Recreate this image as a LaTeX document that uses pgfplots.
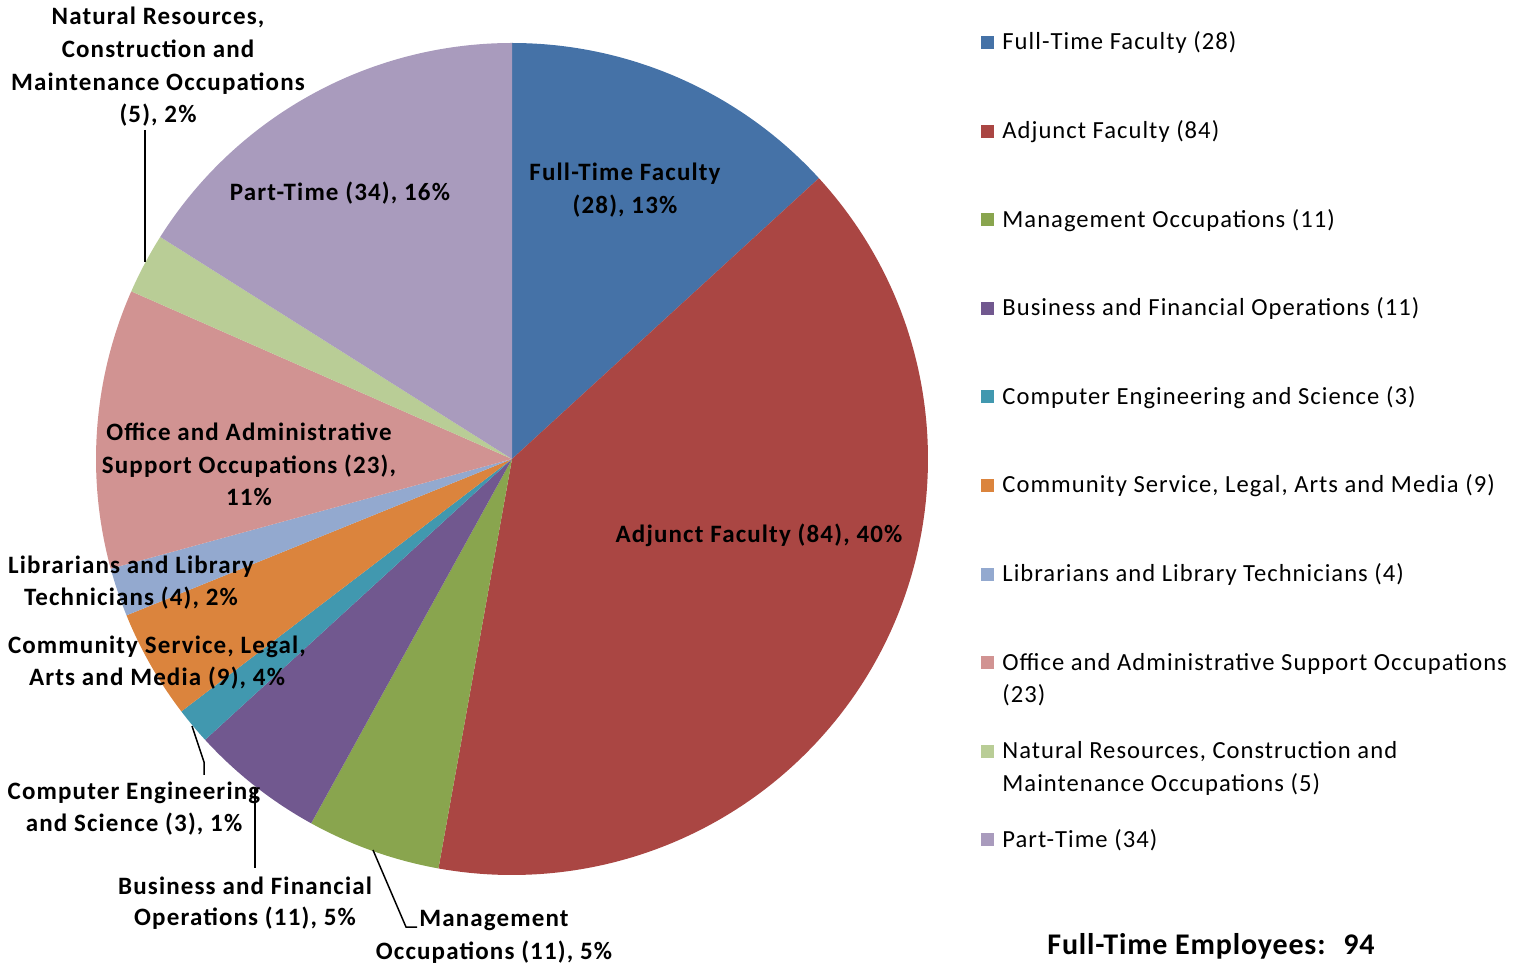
\documentclass[border=0pt]{standalone}
\usepackage{pgfplots}
\pgfplotsset{compat=1.18}
\usepackage{pgfplotstable}
\usepackage{fontspec}
\setmainfont{Carlito}
\newfontfamily\legfont{Carlito}[LetterSpace=4.2]
\newfontfamily\lblfont{Carlito}[LetterSpace=4.6]
\newfontfamily\ttlfont{Carlito}[LetterSpace=2.8]

% Excel 2010 pie palette
\definecolor{c0}{HTML}{4572A7}
\definecolor{c1}{HTML}{AA4643}
\definecolor{c2}{HTML}{89A54E}
\definecolor{c3}{HTML}{71588F}
\definecolor{c4}{HTML}{4198AF}
\definecolor{c5}{HTML}{DB843D}
\definecolor{c6}{HTML}{93A9CF}
\definecolor{c7}{HTML}{D19392}
\definecolor{c8}{HTML}{B9CD96}
\definecolor{c9}{HTML}{A99BBD}

\pgfplotstableread{
key value
FullTime 28
Adjunct 84
Management 11
Business 11
Computer 3
Community 9
Librarians 4
Office 23
Natural 5
PartTime 34
}\staff

% data label line, x and baseline y in picture pixels
\newcommand\dl[3]{\node[anchor=base,font=\lblfont\fontsize{12.5}{14}\selectfont\bfseries,inner sep=0pt] at (axis cs:#1,#2) {#3};}
% legend entry: square + first line
\newcommand\legent[3]{%
  \fill[#1] (axis cs:981,{#2-14}) rectangle (axis cs:994,{#2-1});
  \node[anchor=base west,inner sep=0pt] at (axis cs:1002,#2) {#3};}
\newcommand\legcont[2]{\node[anchor=base west,inner sep=0pt] at (axis cs:1002,#1) {#2};}

\begin{document}
\begin{tikzpicture}[font=\legfont\fontsize{12.3}{14}\selectfont]
\begin{axis}[
  scale only axis,
  width=761pt, height=483.5pt,
  xmin=0, xmax=1522, ymin=0, ymax=967,
  y dir=reverse,
  hide axis,
  clip=false,
]
\path (axis cs:0,0) rectangle (axis cs:1522,967);

% total of all slices
\def\total{0}
\pgfplotsforeachungrouped \i in {0,...,9}{%
  \pgfplotstablegetelem{\i}{value}\of\staff
  \pgfmathsetmacro\total{\total+\pgfplotsretval}%
}
% slices, clockwise from 12 o'clock
\def\cum{0}
\pgfplotsforeachungrouped \i in {0,...,9}{%
  \pgfplotstablegetelem{\i}{value}\of\staff
  \let\v\pgfplotsretval
  \pgfmathsetmacro\angA{90-\cum/\total*360}%
  \pgfmathsetmacro\cum{\cum+\v}%
  \pgfmathsetmacro\angB{90-\cum/\total*360}%
  \edef\temp{\noexpand\fill[c\i] (axis cs:512,459) -- ++(\angA:208pt)
    arc[start angle=\angA, end angle=\angB, radius=208pt] -- cycle;}%
  \temp
}

% leader lines
\draw[line width=0.75pt] (axis cs:145,130) -- (axis cs:145,262);
\draw[line width=0.75pt] (axis cs:192,726) -- (axis cs:204,762) -- (axis cs:204,775);
\draw[line width=0.75pt] (axis cs:255,787) -- (axis cs:255,868);
\draw[line width=0.75pt] (axis cs:373,850) -- (axis cs:406,927) -- (axis cs:417,927);

% data labels
\dl{625}{181}{Full-Time Faculty}
\dl{625}{214}{(28), 13\%}
\dl{759}{543}{Adjunct Faculty (84), 40\%}
\dl{340}{201}{Part-Time (34), 16\%}
\dl{249}{441}{Office and Administrative}
\dl{249}{474}{Support Occupations (23),}
\dl{249}{506}{11\%}
\dl{131}{574}{Librarians and Library}
\dl{131}{606}{Technicians (4), 2\%}
\dl{157}{654}{Community Service, Legal,}
\dl{157}{686}{Arts and Media (9), 4\%}
\dl{134}{800}{Computer Engineering}
\dl{134}{832}{and Science (3), 1\%}
\dl{245}{894}{Business and Financial}
\dl{245}{926}{Operations (11), 5\%}
\dl{494}{927}{Management}
\dl{494}{959}{Occupations (11), 5\%}
\dl{158}{25}{Natural Resources,}
\dl{158}{58}{Construction and}
\dl{158}{91}{Maintenance Occupations}
\dl{158}{123}{(5), 2\%}

% legend
\legent{c0}{50}{Full-Time Faculty (28)}
\legent{c1}{138.6}{Adjunct Faculty (84)}
\legent{c2}{227.2}{Management Occupations (11)}
\legent{c3}{315.8}{Business and Financial Operations (11)}
\legent{c4}{404.4}{Computer Engineering and Science (3)}
\legent{c5}{493}{Community Service, Legal, Arts and Media (9)}
\legent{c6}{581.6}{Librarians and Library Technicians (4)}
\legent{c7}{670.2}{Office and Administrative Support Occupations}
\legcont{703}{(23)}
\legent{c8}{758.8}{Natural Resources, Construction and}
\legcont{791.8}{Maintenance Occupations (5)}
\legent{c9}{847.4}{Part-Time (34)}

\node[anchor=base,inner sep=0pt,font=\ttlfont\fontsize{15}{17}\selectfont\bfseries]
  at (axis cs:1211,954) {Full-Time Employees:~ 94};
\end{axis}
\end{tikzpicture}
\end{document}
